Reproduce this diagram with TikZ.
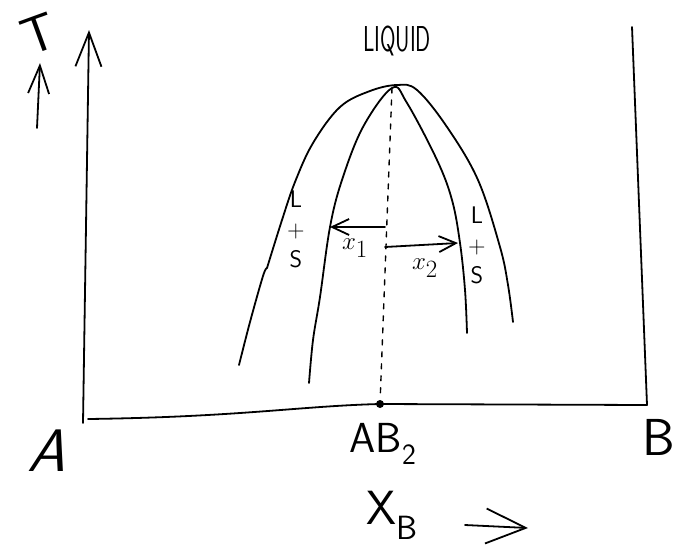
\documentclass[tikz,border=0pt]{standalone}
\usepackage{tikz}
\usetikzlibrary{arrows.meta}

\begin{document}
\begin{tikzpicture}[x=1pt, y=-1pt, font=\sffamily, line width=1.8pt, line cap=round]
  \tikzset{hand/.style={font=\sffamily\fontsize{#1}{#1}\selectfont, inner sep=0pt},
    lsstack/.style={font=\sffamily\fontsize{24}{30}\selectfont, align=center, inner sep=0pt},
    xlab/.style={font=\fontsize{40}{40}\selectfont, inner sep=0pt},
    axisarrow/.style={-{Straight Barb[length=34pt, width=26pt]}},
    tarrow/.style={-{Straight Barb[length=28pt, width=21pt]}},
    xbarrow/.style={-{Straight Barb[length=40pt, width=35pt]}},
    smallarrow/.style={-{Straight Barb[length=17pt, width=16pt]}}}
  \useasboundingbox (0,0) rectangle (676,552);

  % axes
  \coordinate (o) at (83,423);
  \coordinate (ytop) at (89,30);
  \coordinate (xstart) at (88,419);
  \coordinate (xend) at (647,405);
  \coordinate (rtop) at (632,27);
  \node[circle, fill, inner sep=0pt, minimum size=8pt] (dot) at (380,404) {};
  \draw[axisarrow] (o) -- (ytop);
  \draw (xstart) .. controls (240,417) and (300,406) .. (dot.center) -- (xend);
  \draw (xend) -- (rtop);

  % T label
  \node[hand=52, rotate=20] (tlab) at (39,34) {T};
  \coordinate (tbot) at (37,128);
  \coordinate (ttip) at (40,63);
  \draw[tarrow] (tbot) -- (ttip);

  % axis labels
  \node[hand=60, xslant=0.3] (alab) at (52,451) {A};
  \node[hand=52, anchor=east] (blab) at (676,437) {B};
  \node[hand=42] (ablab) at (383,444) {AB\textsubscript{2}};
  \node[hand=48] (xblab) at (392,515) {X\textsubscript{B}};
  \coordinate (xbtail) at (465,525);
  \coordinate (xbtip) at (528,528);
  \draw[xbarrow] (xbtail) -- (xbtip);

  % liquidus domes
  \node[hand=36, xscale=0.62] (liq) at (397,41) {LIQUID};
  \coordinate (peak) at (392,88);
  \draw plot[smooth, tension=0.6] coordinates {(239,365) (250,322) (263,276) (267,268)};
  \draw plot[smooth, tension=0.6] coordinates {(267,268) (282,220) (295,182) (313,143)
    (340,107) (370,91) (397,85) (417,90) (447,127) (478,180) (500,247) (508,285) (513,322)};
  \draw plot[smooth, tension=0.6] coordinates {(309,383) (313,340) (320,297) (330,227)
    (342,180) (363,127) (392,88) (407,103) (437,160) (452,200) (460,243) (465,290) (467,333)};
  \draw[line width=1.4pt, dash pattern=on 5pt off 7pt] (peak) -- (dot);

  % two-phase regions
  \node[lsstack] (lsleft) at (296,229) {L\\+\\S};
  \node[lsstack] (lsright) at (477,245) {L\\+\\S};

  % lever arms
  \coordinate (c1) at (385,227);
  \coordinate (h1) at (330,227);
  \coordinate (c2) at (385,247);
  \coordinate (h2) at (458,243);
  \draw[smallarrow] (c1) -- (h1);
  \draw[smallarrow] (c2) -- (h2);
  \node[xlab] (x1lab) at (355,248) {$x_1$};
  \node[xlab] (x2lab) at (425,268) {$x_2$};
\end{tikzpicture}
\end{document}
